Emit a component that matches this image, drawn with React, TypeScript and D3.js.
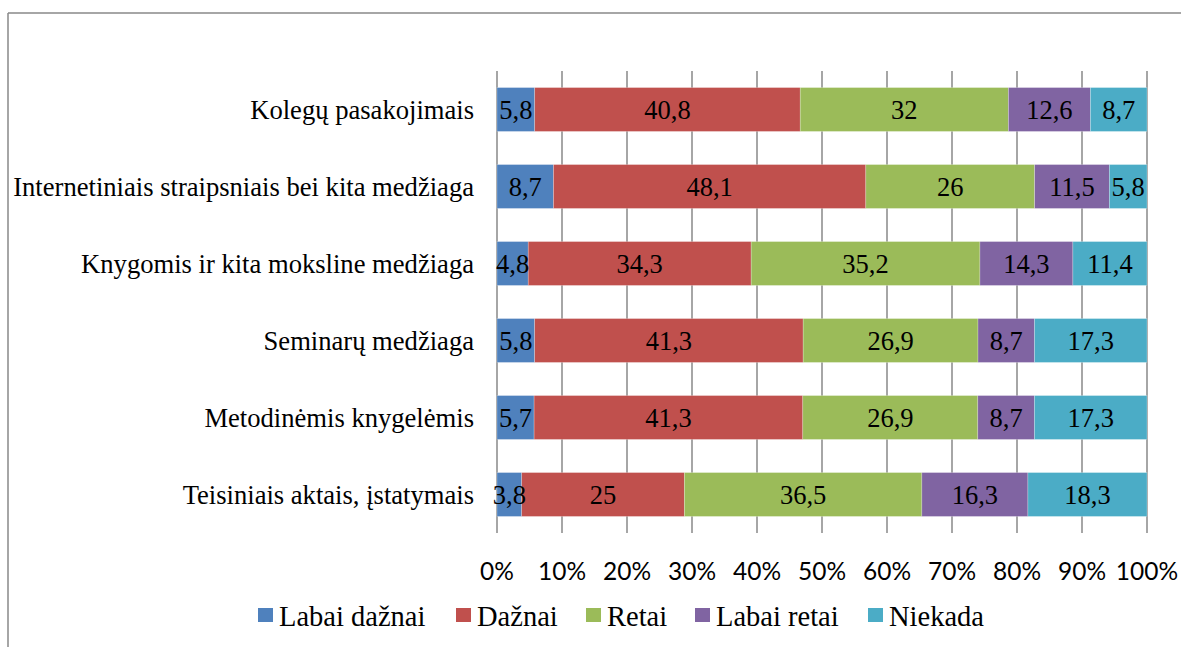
import React from "react";
import * as d3 from "d3";

const categories = [
  "Kolegų pasakojimais",
  "Internetiniais straipsniais bei kita medžiaga",
  "Knygomis ir kita moksline medžiaga",
  "Seminarų medžiaga",
  "Metodinėmis knygelėmis",
  "Teisiniais aktais, įstatymais",
];
const seriesNames = ["Labai dažnai", "Dažnai", "Retai", "Labai retai", "Niekada"];
const labaiDaznai = [5.8, 8.7, 4.8, 5.8, 5.7, 3.8];
const daznai = [40.8, 48.1, 34.3, 41.3, 41.3, 25];
const retai = [32, 26, 35.2, 26.9, 26.9, 36.5];
const labaiRetai = [12.6, 11.5, 14.3, 8.7, 8.7, 16.3];
const niekada = [8.7, 5.8, 11.4, 17.3, 17.3, 18.3];
const tickValues = [0, 10, 20, 30, 40, 50, 60, 70, 80, 90, 100];
const colors = ["#4F81BD", "#C0504D", "#9BBB59", "#8064A2", "#4BACC6"];

const seriesValues = [labaiDaznai, daznai, retai, labaiRetai, niekada];

export default function App() {
  const W = 1181, H = 647;
  const x = d3.scaleLinear().domain([0, 100]).range([497, 1147]);
  const y = d3.scaleBand().domain(categories).range([71, 533]).paddingInner(0.43).paddingOuter(0.215);

  const rows = categories.map((c, i) => {
    const vals = seriesValues.map((s) => s[i]);
    const total = d3.sum(vals);
    let acc = 0;
    return vals.map((v, k) => {
      const start = (acc / total) * 100;
      acc += v;
      const end = (acc / total) * 100;
      return { c, k, v, start, end };
    });
  });

  const fmt = (v: number) => String(v).replace(".", ",");
  const legendX = [258, 456, 586, 695, 868];

  return (
    <svg width={W} height={H} style={{ position: "absolute", left: 0, top: 0, background: "#fff" }} fontFamily="Liberation Serif">
      <style>{`.srf{font-family:"Liberation Serif",serif;} .sns{font-family:Lato,sans-serif;}`}</style>
      <rect x={0} y={0} width={W} height={H} fill="#fff" />
      <line x1={8} x2={W} y1={13} y2={13} stroke="#888" strokeWidth={1.5} />
      <line x1={8} x2={8} y1={13} y2={H} stroke="#888" strokeWidth={1.5} />
      {tickValues.map((t) => (
        <line key={t} x1={x(t)} x2={x(t)} y1={71} y2={533} stroke="#888" strokeWidth={1.5} />
      ))}
      {rows.map((segs, i) =>
        segs.map((s) => (
          <rect
            key={`${i}-${s.k}`}
            x={x(s.start)}
            y={y(s.c)!}
            width={x(s.end) - x(s.start)}
            height={y.bandwidth()}
            fill={colors[s.k]}
            stroke="#fff"
            strokeOpacity={0.4}
            strokeWidth={0.6}
          />
        ))
      )}
      {rows.map((segs, i) =>
        segs.map((s) => (
          <text
            key={`t${i}-${s.k}`}
            className="srf"
            x={(x(s.start) + x(s.end)) / 2}
            y={y(s.c)! + y.bandwidth() / 2 + 9}
            textAnchor="middle"
            fontSize={26.5}
            fill="#000"
          >
            {fmt(s.v)}
          </text>
        ))
      )}
      {categories.map((c) => (
        <text
          key={c}
          className="srf"
          x={474}
          y={y(c)! + y.bandwidth() / 2 + 9}
          textAnchor="end"
          fontSize={26.6}
          fill="#000"
        >
          {c}
        </text>
      ))}
      {tickValues.map((t) => (
        <text key={`tl${t}`} className="sns" x={x(t)} y={580} textAnchor="middle" fontSize={24.5} fill="#000">
          {t}%
        </text>
      ))}
      {seriesNames.map((n, k) => (
        <g key={n}>
          <rect x={legendX[k]} y={608} width={15} height={14} fill={colors[k]} />
          <text className="srf" x={legendX[k] + 21} y={626} fontSize={28.5} fill="#000">
            {n}
          </text>
        </g>
      ))}
    </svg>
  );
}
